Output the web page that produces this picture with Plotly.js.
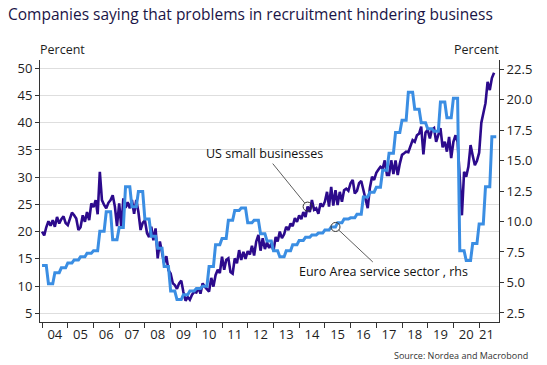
<!DOCTYPE html>
<html><head><meta charset="utf-8">
<script src="https://cdn.plot.ly/plotly-3.0.1.min.js"></script>
<style>html,body{margin:0;padding:0;background:#fff}#chart{width:547px;height:365px}</style>
</head><body><div id="chart"></div>
<script>
// ---- data ----
const startYear = 2004;
// US small businesses, monthly, Jan 2004 - Aug 2021, percent (left axis)
const usSmallBusinesses = [
  20.0, 19.3, 20.8, 21.9, 21.1, 22.1, 20.9, 22.7, 21.5, 22.3, 22.8, 21.6, // 2004
  21.2, 22.4, 23.5, 23.0, 22.4, 20.3, 20.8, 23.0, 21.8, 23.6, 22.1, 25.2, // 2005
  24.5, 25.8, 23.2, 31.0, 25.8, 24.9, 24.3, 25.3, 25.8, 26.7, 24.6, 21.0, // 2006
  25.2, 20.6, 26.1, 24.4, 25.4, 24.3, 25.8, 23.3, 25.8, 23.6, 20.3, 21.6, // 2007
  22.1, 19.7, 19.0, 20.9, 18.4, 20.6, 15.1, 18.2, 16.2, 14.2, 15.5, 12.9, // 2008
  12.3, 10.5, 10.2, 9.5, 10.5, 11.0, 8.9, 7.3, 8.0, 7.5, 8.4, 8.9,        // 2009
  8.8, 9.7, 8.6, 10.5, 9.9, 9.4, 9.0, 11.5, 9.9, 12.0, 13.0, 12.4,        // 2010
  15.4, 13.0, 14.8, 15.1, 12.6, 12.3, 15.1, 14.2, 16.6, 14.8, 16.3, 15.0, // 2011
  16.4, 15.8, 17.4, 15.6, 18.2, 19.4, 16.5, 18.8, 16.8, 18.0, 17.0, 17.8, // 2012
  16.5, 19.0, 18.2, 20.0, 18.8, 19.5, 20.9, 20.3, 21.5, 21.0, 22.5, 21.8, // 2013
  23.0, 22.3, 23.6, 22.7, 24.6, 23.6, 25.8, 24.0, 24.3, 23.3, 25.2, 24.6, // 2014
  25.5, 27.3, 24.6, 28.2, 24.8, 27.6, 24.9, 27.3, 25.5, 27.6, 27.9, 27.5, // 2015
  28.9, 29.5, 27.0, 27.5, 28.9, 29.3, 27.6, 26.4, 24.3, 28.0, 30.1, 29.5, // 2016
  30.8, 31.4, 31.9, 31.6, 33.1, 30.4, 30.4, 33.1, 30.6, 33.1, 30.4, 32.5, // 2017
  34.1, 34.4, 34.7, 34.6, 35.6, 36.8, 36.5, 37.7, 38.0, 39.3, 34.2, 38.2, // 2018
  38.7, 37.1, 38.7, 39.0, 36.5, 37.7, 39.0, 35.5, 36.5, 34.7, 37.4, 33.5, // 2019
  36.5, 37.7, 36.5, 29.8, 23.0, 31.0, 30.1, 31.9, 35.9, 34.0, 32.2, 33.0, // 2020
  34.5, 40.0, 41.7, 43.6, 47.5, 46.0, 48.2, 49.2                          // 2021
];
// Euro Area service sector, quarterly, 2004Q1 - 2021Q3, percent (right axis)
const euroAreaServiceSector = [
  6.4, 4.9, 5.8, 6.2,      // 2004
  6.6, 6.85, 7.1, 7.4,     // 2005
  7.6, 9.2, 10.8, 8.5,     // 2006
  9.5, 12.85, 11.2, 12.45, // 2007
  10.2, 8.8, 7.8, 6.3,     // 2008
  4.3, 3.6, 4.0, 4.3,      // 2009
  4.5, 4.7, 6.3, 8.1,      // 2010
  8.6, 10.1, 10.9, 11.1,   // 2011
  9.9, 10.1, 9.0, 8.4,     // 2012
  7.6, 7.1, 7.6, 8.1,      // 2013
  8.45, 8.7, 8.9, 9.05,    // 2014
  9.3, 9.55, 9.9, 10.2,    // 2015
  10.3, 10.6, 12.0, 12.4,  // 2016
  12.8, 14.2, 15.6, 17.3,  // 2017
  18.3, 20.6, 19.2, 18.1,  // 2018
  17.6, 17.4, 19.8, 18.5,  // 2019
  20.1, 7.6, 6.8, 8.2,     // 2020
  9.8, 12.85, 16.95        // 2021
];
const yearLabels = ['04','05','06','07','08','09','10','11','12','13','14','15','16','17','18','19','20','21'];
const leftTicks = [5,10,15,20,25,30,35,40,45,50];
const rightTicks = [2.5,5,7.5,10,12.5,15,17.5,20,22.5];
const titleText = 'Companies saying that problems in recruitment hindering business';
const seriesNames = ['US small businesses', 'Euro Area service sector , rhs'];
const sourceText = 'Source: Nordea and Macrobond';
const circledUsMonth = '2014-05';
const circledEuroMonth = '2015-06';

// ---- helpers ----
function monthDate(i) {
  const y = startYear + Math.floor(i / 12);
  const m = (i % 12) + 1;
  return y + '-' + String(m).padStart(2, '0') + '-01';
}
const usDates = usSmallBusinesses.map((_, i) => monthDate(i));
// quarterly survey shown at monthly frequency (value held for the quarter's months)
const euroDates = [], euroValues = [];
euroAreaServiceSector.forEach((v, q) => {
  for (let k = 0; k < 3; k++) { euroDates.push(monthDate(q * 3 + k)); euroValues.push(v); }
});
const usIdx = usDates.indexOf(circledUsMonth + '-01');
const euIdx = euroDates.indexOf(circledEuroMonth + '-01');

const purple = '#2c0a8c';
const blue = '#3b8ee3';
const font = 'Open Sans, sans-serif';
const txt = '#1e1e1e';

const labelPositions = yearLabels.map((l, i) => (i === yearLabels.length - 1) ? (startYear + i) + '-04-15' : (startYear + i) + '-07-01');
const yearStarts = yearLabels.map((l, i) => (startYear + i) + '-01-01');

const traces = [
  { x: euroDates, y: euroValues, yaxis: 'y2', type: 'scatter', mode: 'lines',
    line: { color: blue, width: 3 }, hoverinfo: 'skip' },
  { x: usDates, y: usSmallBusinesses, type: 'scatter', mode: 'lines',
    line: { color: purple, width: 2.6 }, hoverinfo: 'skip' },
  { x: [usDates[usIdx]], y: [usSmallBusinesses[usIdx]], type: 'scatter', mode: 'markers',
    marker: { symbol: 'circle-open', size: 9, color: '#333', line: { width: 1 } } },
  { x: [euroDates[euIdx]], y: [euroValues[euIdx]], yaxis: 'y2', type: 'scatter', mode: 'markers',
    marker: { symbol: 'circle-open', size: 9, color: '#333', line: { width: 1 } } }
];

const layout = {
  width: 547, height: 365,
  margin: { l: 40, r: 48, t: 60, b: 43 },
  showlegend: false,
  paper_bgcolor: '#fff', plot_bgcolor: '#fff',
  font: { family: font, color: txt, size: 13 },
  title: { text: titleText, x: 8 / 547, xanchor: 'left', xref: 'container',
           y: 1 - 15 / 365, yanchor: 'middle', yref: 'container',
           font: { family: font, size: 15.5, color: '#1a1446' } },
  xaxis: {
    type: 'date', range: ['2003-12-03', '2021-10-10'],
    tickmode: 'array', tickvals: labelPositions, ticktext: yearLabels,
    ticks: '', showgrid: false, zeroline: false,
    showline: true, linecolor: '#333', linewidth: 1,
    tickfont: { size: 13, color: txt },
    minor: { tickmode: 'array', tickvals: yearStarts, ticks: 'outside', ticklen: 5, tickcolor: '#333', showgrid: false }
  },
  yaxis: {
    range: [3.4, 51.53], tickmode: 'array', tickvals: leftTicks,
    ticks: 'outside', ticklen: 4, tickcolor: '#333',
    showgrid: true, gridcolor: '#dedede', gridwidth: 1, zeroline: false,
    showline: true, linecolor: '#333', linewidth: 1,
    tickfont: { size: 13, color: txt }
  },
  yaxis2: {
    overlaying: 'y', side: 'right',
    range: [1.76, 23.24], tickmode: 'array', tickvals: rightTicks, tickformat: '.1f',
    ticks: 'outside', ticklen: 4, tickcolor: '#333',
    showgrid: false, zeroline: false,
    showline: true, linecolor: '#333', linewidth: 1,
    tickfont: { size: 13, color: txt }
  },
  annotations: [
    { text: 'Percent', xref: 'paper', yref: 'paper', x: -0.005, y: 1.0, xanchor: 'left', yanchor: 'bottom',
      yshift: 0, showarrow: false, font: { size: 12.5, color: txt } },
    { text: 'Percent', xref: 'paper', yref: 'paper', x: 1.005, y: 1.0, xanchor: 'right', yanchor: 'bottom',
      yshift: 0, showarrow: false, font: { size: 12.5, color: txt } },
    { text: seriesNames[0], x: usDates[usIdx], y: usSmallBusinesses[usIdx], xref: 'x', yref: 'y',
      showarrow: true, arrowhead: 0, arrowwidth: 0.8, arrowcolor: '#333', standoff: 4.5,
      ax: -43, ay: -53, font: { size: 12.5, color: '#111' } },
    { text: seriesNames[1], x: euroDates[euIdx], y: euroValues[euIdx], xref: 'x', yref: 'y2',
      showarrow: true, arrowhead: 0, arrowwidth: 0.8, arrowcolor: '#333', standoff: 4.5,
      ax: 48, ay: 45, font: { size: 12.5, color: '#111' } },
    { text: sourceText, xref: 'paper', yref: 'paper', x: 1.0675, y: -0.126, xanchor: 'right', yanchor: 'middle',
      showarrow: false, font: { size: 9, color: '#333' } }
  ]
};

Plotly.newPlot('chart', traces, layout, { displayModeBar: false, staticPlot: true });
</script>
</body></html>
